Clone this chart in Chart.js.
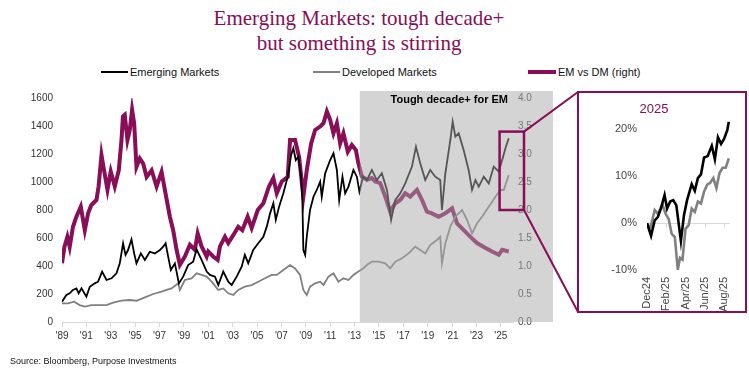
<!DOCTYPE html>
<html><head><meta charset="utf-8">
<script src="https://cdn.jsdelivr.net/npm/chart.js@4.4.1/dist/chart.umd.min.js"></script>
<style>
html,body{margin:0;padding:0;background:#fff}
body{width:749px;height:382px;overflow:hidden;position:relative;font-family:"Liberation Sans",Arial,sans-serif}
#title{position:absolute;left:0;top:6px;width:718px;text-align:center;font-family:"Liberation Serif",serif;font-size:21px;line-height:25px;color:#870E57}
.lg{position:absolute;top:65px;font-size:11px;line-height:14px;color:#111;white-space:nowrap}
.sw{position:absolute;left:0}
#source{position:absolute;left:10px;top:356px;font-size:9px;color:#111}
#main{position:absolute;left:0;top:0}
#inset{position:absolute;left:577px;top:91px;width:166px;height:218px;border:2px solid #870E57;background:#fff}
#inset canvas{position:absolute;left:0;top:0}
#insetTitle{position:absolute;left:50px;top:8px;width:50px;text-align:center;font-size:13px;color:#870E57}
</style></head>
<body>
<div id="title">Emerging Markets: tough decade+<br>but something is stirring</div>
<div class="lg" style="left:101px"><span class="sw" style="top:6px;width:27px;height:2px;background:#000"></span><span style="margin-left:29px">Emerging Markets</span></div>
<div class="lg" style="left:313px"><span class="sw" style="top:6px;width:27px;height:2px;background:#808080"></span><span style="margin-left:29px">Developed Markets</span></div>
<div class="lg" style="left:528px"><span class="sw" style="top:5px;width:28px;height:4px;background:#870E57"></span><span style="margin-left:30px">EM vs DM (right)</span></div>
<canvas id="main" width="749" height="382"></canvas>
<div id="inset"><canvas id="ins" width="166" height="218"></canvas><div id="insetTitle">2025</div></div>
<div id="source">Source: Bloomberg, Purpose Investments</div>
<script>
// ---- main chart data (years as decimal, left axis index levels) ----
const emYears = [1989.0,1989.36,1989.63,1989.9,1990.18,1990.37,1990.6,1991.0,1991.28,1991.69,1991.96,1992.29,1992.65,1993.06,1993.47,1993.74,1994.01,1994.21,1994.42,1994.7,1994.92,1995.11,1995.47,1995.8,1996.2,1996.62,1997.03,1997.3,1997.5,1997.71,1997.93,1998.26,1998.59,1998.94,1999.35,1999.76,2000.04,2000.45,2000.87,2001.14,2001.55,2001.82,2002.23,2002.64,2002.92,2003.33,2003.74,2004.0,2004.28,2004.69,2005.1,2005.52,2005.8,2006.07,2006.34,2006.54,2006.81,2007.16,2007.52,2007.8,2007.98,2008.18,2008.39,2008.61,2008.72,2008.8,2008.95,2009.08,2009.35,2009.63,2009.9,2010.18,2010.31,2010.59,2011.0,2011.27,2011.55,2011.74,2012.01,2012.23,2012.5,2012.91,2013.19,2013.4,2013.7,2014.01,2014.42,2014.83,2015.24,2015.66,2016.0,2016.34,2016.75,2017.16,2017.71,2018.04,2018.39,2018.8,2019.21,2019.62,2020.03,2020.17,2020.45,2020.86,2021.05,2021.27,2021.54,2021.95,2022.36,2022.64,2022.92,2023.19,2023.6,2024.01,2024.42,2024.83,2025.11,2025.38,2025.65];
const emValues = [145,193,205,229,240,205,240,181,252,276,288,360,300,312,348,419,562,479,514,590,490,419,490,443,502,490,514,538,562,467,371,419,276,324,407,431,519,443,360,336,324,264,360,288,264,324,395,479,419,514,562,609,681,776,848,729,824,919,1038,1193,1241,1157,1181,1038,871,514,479,609,800,895,943,1002,895,1062,1157,1205,1086,871,1038,919,967,1086,1038,930,1040,1014,1086,1014,1062,943,729,871,919,990,1110,1252,1133,1014,1086,1038,1014,800,1062,1300,1431,1324,1348,1229,1086,943,1014,967,1038,990,1110,1074,1157,1241,1312];

const dmYears = [1989.0,1989.5,1990.0,1990.45,1990.87,1991.41,1991.96,1992.65,1993.19,1993.88,1994.56,1995.11,1995.8,1996.48,1997.17,1997.58,1997.99,1998.53,1998.67,1999.08,1999.63,2000.04,2000.45,2000.87,2001.28,2001.82,2002.23,2002.64,2003.05,2003.46,2004.0,2004.56,2005.1,2005.65,2006.2,2006.62,2007.16,2007.71,2008.12,2008.53,2008.8,2009.08,2009.35,2009.77,2010.18,2010.45,2010.86,2011.27,2011.68,2012.09,2012.5,2012.91,2013.32,2013.73,2014.0,2014.42,2014.96,2015.52,2015.93,2016.34,2016.89,2017.43,2017.98,2018.39,2018.8,2019.21,2019.76,2020.03,2020.17,2020.45,2020.86,2021.27,2021.82,2022.23,2022.64,2023.05,2023.46,2024.01,2024.56,2024.97,2025.24,2025.65];
const dmValues = [133,133,145,121,110,121,121,121,138,152,157,152,176,200,217,229,240,276,229,300,312,348,336,324,288,229,240,205,193,229,252,264,288,312,336,336,371,407,383,336,229,193,252,276,288,264,324,348,288,312,300,336,360,383,407,431,431,419,383,431,455,490,538,514,490,550,586,609,419,562,681,752,800,729,633,705,752,824,895,943,943,1050];

const ratioYears = [1989.0,1989.2,1989.44,1989.63,1989.9,1990.18,1990.54,1990.87,1991.14,1991.41,1991.83,1992.0,1992.24,1992.45,1992.73,1993.0,1993.33,1993.66,1993.88,1994.0,1994.15,1994.37,1994.56,1994.75,1994.92,1995.11,1995.38,1995.66,1995.94,1996.35,1996.76,1997.17,1997.44,1997.85,1998.12,1998.4,1998.67,1999.08,1999.49,1999.9,2000.13,2000.45,2000.87,2001.0,2001.4,2001.77,2001.96,2002.37,2002.64,2003.05,2003.46,2003.79,2004.23,2004.56,2005.06,2005.52,2005.98,2006.34,2006.62,2007.03,2007.52,2007.71,2008.12,2008.45,2008.8,2009.08,2009.44,2009.77,2010.18,2010.45,2010.73,2011.0,2011.27,2011.55,2011.82,2012.09,2012.45,2012.78,2013.11,2013.32,2013.6,2014.01,2014.42,2014.69,2015.1,2015.52,2015.93,2016.34,2016.75,2017.16,2017.57,2018.12,2018.53,2018.94,2019.35,2019.9,2020.45,2021.0,2021.41,2021.96,2022.5,2023.05,2023.6,2024.28,2024.83,2025.11,2025.65];
const ratioValues = [1.05,1.34,1.52,1.34,1.70,1.88,2.06,1.64,1.94,2.09,2.18,2.42,2.98,2.71,2.36,2.69,2.42,2.71,3.25,3.67,3.70,3.25,3.43,3.79,3.55,2.77,2.92,2.83,2.59,2.71,2.42,2.68,2.36,1.88,1.64,1.29,1.02,1.17,1.38,1.29,1.58,1.35,1.17,1.26,1.17,1.11,1.35,1.52,1.41,1.55,1.70,1.64,1.88,1.68,2.00,2.12,2.42,2.57,2.30,2.51,2.59,3.25,3.25,2.95,2.24,2.71,3.19,3.43,3.49,3.55,3.76,3.61,3.37,3.55,3.19,3.37,3.04,3.16,3.07,2.83,2.60,2.54,2.57,2.51,2.48,2.24,1.97,2.12,2.18,2.30,2.24,2.36,2.18,1.97,1.94,1.88,1.94,2.03,1.76,1.64,1.52,1.41,1.34,1.26,1.20,1.29,1.26];

const yearTicks = [1989,1991,1993,1995,1997,1999,2001,2003,2005,2007,2009,2011,2013,2015,2017,2019,2021,2023,2025];
const shadeStartYear = 2013.43;
const shadeLabel = 'Tough decade+ for EM';
const zoomFromYear = 2024.9, zoomTop = 3.4, zoomBottom = 2.0;

// ---- inset data (months since Dec 2024, % change) ----
const insetEmMonths = [0,0.42,0.8,1.12,1.44,1.82,2.08,2.4,2.72,3.04,3.51,3.83,4.15,4.63,4.95,5.27,5.59,5.91,6.29,6.71,7.03,7.35,7.67,7.99,8.31,8.47];
const insetEmValues = [0,-2.7,0.6,1.3,3.1,6.0,3.1,4.6,4.9,3.8,-3.8,1.7,4.9,8.3,6.9,9.6,10.4,14.0,14.3,16.5,13.6,18.3,16.9,18.0,19.8,21.6];
const insetDmMonths = [0,0.32,0.8,1.12,1.6,1.92,2.24,2.56,2.88,3.19,3.42,3.67,3.99,4.31,4.63,4.95,5.27,5.59,5.91,6.23,6.55,6.87,7.19,7.51,7.83,8.15,8.47];
const insetDmValues = [0,-1.2,2.8,2.0,4.0,2.0,0.9,-2.3,-3.0,-9.9,-7.4,-7.8,-1.2,-0.5,3.1,2.4,4.6,4.2,6.7,8.2,8.6,9.6,7.5,10.7,11.8,11.8,13.8];
const insetTickMonths = [0,2,4,6,8];
const insetTickLabels = ['Dec24','Feb/25','Apr/25','Jun/25','Aug/25'];
const insetYTicks = [-10,0,10,20];

const PURPLE = '#870E57';
const FONT = 'Liberation Sans';
const pts = (xs, ys) => xs.map((x, i) => ({x, y: ys[i]}));

const overlayPlugin = {
  id: 'overlay',
  afterDraw(chart) {
    const {ctx, chartArea} = chart;
    const xs = chart.scales.x, yr = chart.scales.y1;
    ctx.save();
    const x0 = xs.getPixelForValue(shadeStartYear);
    const x1 = chartArea.right + 40;
    const top = chartArea.top - 7, bottom = chartArea.bottom;
    ctx.fillStyle = 'rgba(170,170,170,0.5)';
    ctx.fillRect(x0, top, x1 - x0, bottom - top);
    ctx.font = 'bold 11px "' + FONT + '"';
    ctx.fillStyle = '#000';
    ctx.textAlign = 'right';
    ctx.textBaseline = 'middle';
    ctx.fillText(shadeLabel, chartArea.right - 5, top + 9);
    const bx0 = xs.getPixelForValue(zoomFromYear), bx1 = chartArea.right + 11;
    const by0 = yr.getPixelForValue(zoomTop), by1 = yr.getPixelForValue(zoomBottom);
    ctx.strokeStyle = PURPLE;
    ctx.lineWidth = 2.5;
    ctx.strokeRect(bx0, by0, bx1 - bx0, by1 - by0);
    const ins = document.getElementById('inset');
    const L = ins.offsetLeft, T = ins.offsetTop, H = ins.offsetHeight;
    ctx.lineWidth = 2;
    ctx.beginPath();
    ctx.moveTo(bx1, by0); ctx.lineTo(L + 1, T + 1);
    ctx.moveTo(bx1, by1); ctx.lineTo(L + 1, T + H - 1);
    ctx.stroke();
    ctx.restore();
  }
};

new Chart(document.getElementById('main'), {
  type: 'line',
  data: { datasets: [
    {label: 'Emerging Markets', data: pts(emYears, emValues), borderColor: '#000', borderWidth: 1.8, yAxisID: 'y', pointRadius: 0, tension: 0},
    {label: 'Developed Markets', data: pts(dmYears, dmValues), borderColor: '#808080', borderWidth: 1.8, yAxisID: 'y', pointRadius: 0, tension: 0},
    {label: 'EM vs DM (right)', data: pts(ratioYears, ratioValues), borderColor: PURPLE, borderWidth: 4, yAxisID: 'y1', pointRadius: 0, tension: 0}
  ]},
  options: {
    responsive: false, animation: false, devicePixelRatio: 1,
    layout: {padding: {left: 0, top: 98, right: 196, bottom: 30}},
    plugins: {legend: {display: false}, tooltip: {enabled: false}},
    scales: {
      x: {type: 'linear', min: 1989, max: 2026,
          afterBuildTicks: s => { s.ticks = yearTicks.map(v => ({value: v})); },
          afterFit: s => { s.height = 30; },
          grid: {drawOnChartArea: false, drawTicks: true, tickLength: 5, color: '#d9d9d9'},
          border: {display: true, color: '#d9d9d9'},
          ticks: {padding: 3, autoSkip: false, maxRotation: 0, color: '#333', font: {size: 10, family: FONT},
                  callback: v => "'" + String(v).slice(2)}},
      y: {position: 'left', min: 0, max: 1600,
          afterFit: s => { s.width = 62; },
          grid: {display: false, drawTicks: false}, border: {display: false},
          ticks: {stepSize: 200, padding: 9, color: '#333', font: {size: 10, family: FONT}, callback: v => String(v)}},
      y1: {position: 'right', min: 0, max: 4,
          afterFit: s => { s.width = 40; },
          grid: {display: false, drawTicks: false}, border: {display: false},
          ticks: {stepSize: 0.5, padding: 5, color: '#444', font: {size: 10, family: FONT}, callback: v => v.toFixed(1)}}
    }
  },
  plugins: [overlayPlugin]
});

const zeroTicksPlugin = {
  id: 'zeroTicks',
  beforeDatasetsDraw(chart) {
    const {ctx} = chart;
    const xs = chart.scales.x, ys = chart.scales.y;
    const y0 = Math.round(ys.getPixelForValue(0)) + 0.5;
    ctx.save();
    ctx.strokeStyle = '#d9d9d9'; ctx.lineWidth = 1;
    insetTickMonths.forEach(m => {
      const x = Math.round(xs.getPixelForValue(m)) + 0.5;
      ctx.beginPath(); ctx.moveTo(x, y0); ctx.lineTo(x, y0 + 4); ctx.stroke();
    });
    ctx.restore();
  }
};

new Chart(document.getElementById('ins'), {
  type: 'line',
  data: { datasets: [
    {label: 'Emerging Markets', data: pts(insetEmMonths, insetEmValues), borderColor: '#000', borderWidth: 2.6, pointRadius: 0, tension: 0},
    {label: 'Developed Markets', data: pts(insetDmMonths, insetDmValues), borderColor: '#808080', borderWidth: 2.6, pointRadius: 0, tension: 0}
  ]},
  options: {
    responsive: false, animation: false, devicePixelRatio: 1,
    layout: {padding: {left: 0, top: 27, right: 8, bottom: 0}},
    plugins: {legend: {display: false}, tooltip: {enabled: false}},
    scales: {
      x: {type: 'linear', min: 0, max: 8.6,
          afterBuildTicks: s => { s.ticks = insetTickMonths.map(v => ({value: v})); },
          afterFit: s => { s.height = 41; },
          grid: {display: false, drawTicks: false}, border: {display: false},
          ticks: {padding: 7, autoSkip: false, minRotation: 90, maxRotation: 90, color: '#444', font: {size: 11, family: FONT},
                  callback: (v, i) => insetTickLabels[insetTickMonths.indexOf(v)]}},
      y: {min: -10, max: 22,
          afterBuildTicks: s => { s.ticks = insetYTicks.map(v => ({value: v})); },
          afterFit: s => { s.width = 68; },
          grid: {drawTicks: false, color: c => (c.tick && c.tick.value === 0) ? '#d9d9d9' : 'rgba(0,0,0,0)'},
          border: {display: false},
          ticks: {padding: 10, color: '#444', font: {size: 11, family: FONT}, callback: v => v + '%'}}
    }
  },
  plugins: [zeroTicksPlugin]
});
</script>
</body></html>
